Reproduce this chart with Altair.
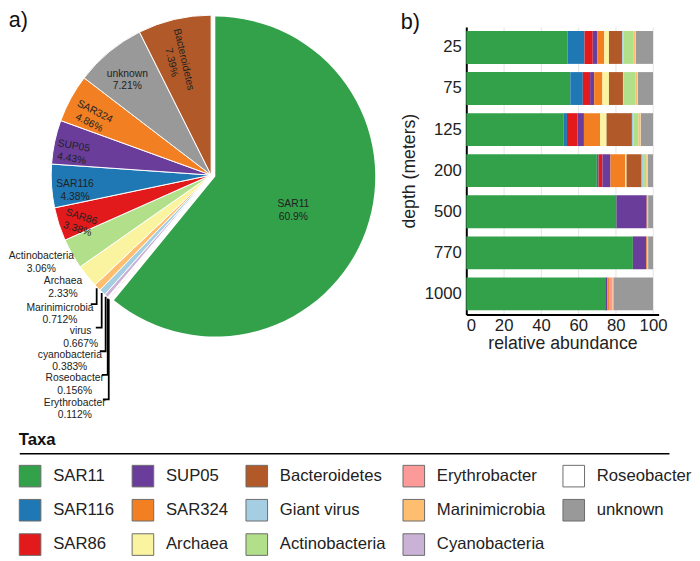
import math
import altair as alt
import pandas as pd

# ---------------- data ----------------
taxa = ["SAR11", "SAR116", "SAR86", "SUP05", "SAR324", "Archaea", "Bacteroidetes",
        "Giant virus", "Actinobacteria", "Erythrobacter", "Marinimicrobia",
        "Cyanobacteria", "Roseobacter", "unknown"]
taxa_colors = ["#33a04a", "#1f78b4", "#e31a1c", "#6a3d9a", "#f28022", "#faf4a0", "#b15928",
               "#a6cee3", "#b2df8a", "#fb9a99", "#fdbf6f", "#cab2d6", "#ffffff", "#999999"]

# panel a) pie, clockwise from 12 o'clock
pie_taxa = ["SAR11", "Erythrobacter", "Roseobacter", "Cyanobacteria", "Giant virus",
            "Marinimicrobia", "Archaea", "Actinobacteria", "SAR86", "SAR116", "SUP05",
            "SAR324", "unknown", "Bacteroidetes"]
pie_names = ["SAR11", "Erythrobacter", "Roseobacter", "cyanobacteria", "virus",
             "Marinimicrobia", "Archaea", "Actinobacteria", "SAR86", "SAR116", "SUP05",
             "SAR324", "unknown", "Bacteroidetes"]
pie_pct = [60.9, 0.112, 0.156, 0.383, 0.667, 0.712, 2.33, 3.06, 3.38, 4.38, 4.43,
           4.86, 7.21, 7.39]

# panel b) relative abundance by depth
depths = ["25", "75", "125", "200", "500", "770", "1000"]
sar11 = [54.3, 55.7, 52.0, 69.9, 80.4, 89.2, 74.4]
sar116 = [9.0, 6.7, 1.9, 0.9, 0.0, 0.0, 0.0]
sar86 = [4.4, 3.9, 5.6, 2.1, 0.0, 0.0, 0.0]
sup05 = [2.4, 2.2, 3.5, 4.3, 16.2, 7.2, 1.1]
sar324 = [3.8, 4.4, 8.7, 8.0, 0.3, 0.4, 0.9]
archaea = [2.5, 3.5, 3.4, 0.6, 0.0, 0.0, 0.0]
bacteroidetes = [7.1, 7.5, 13.6, 8.1, 0.0, 0.0, 0.0]
giant_virus = [0.7, 0.3, 0.9, 1.2, 0.0, 0.0, 0.0]
actinobacteria = [5.4, 6.3, 2.6, 1.3, 0.0, 0.0, 0.0]
erythrobacter = [0.1, 0.0, 0.0, 0.0, 0.2, 0.3, 1.9]
marinimicrobia = [0.9, 1.2, 1.2, 0.5, 0.3, 0.3, 0.5]
cyanobacteria = [0.1, 0.1, 0.0, 0.2, 0.0, 0.0, 0.0]
roseobacter = [0.1, 0.1, 0.1, 0.1, 0.0, 0.0, 0.0]
unknown = [9.2, 8.1, 6.5, 2.8, 2.6, 2.6, 21.2]

bar_series = [sar11, sar116, sar86, sup05, sar324, archaea, bacteroidetes, giant_virus,
              actinobacteria, erythrobacter, marinimicrobia, cyanobacteria, roseobacter,
              unknown]

# ---------------- layout / style ----------------
FONT = "Liberation Sans"
PIE_W, PIE_H = 390, 397
CX, CY, R = 205, 151, 163
EXPLODE = 4.5
# inside labels: (radius, rotation)
inside_labels = {"SAR11": (89, 0), "Bacteroidetes": (121, 77), "unknown": (134, 0),
                 "SAR324": (135, 27), "SUP05": (143, 10), "SAR116": (139, 0),
                 "SAR86": (139, 18)}
# outside labels: block centre in view pixels
outside_labels = [("Actinobacteria", 32, 234), ("Archaea", 54, 259),
                  ("Marinimicrobia", 51, 286), ("virus", 72, 310),
                  ("cyanobacteria", 61, 334), ("Roseobacter", 66, 358),
                  ("Erythrobacter", 66, 383)]
leader_names = ["Marinimicrobia", "virus", "cyanobacteria", "Roseobacter", "Erythrobacter"]

color_scale = alt.Scale(domain=taxa, range=taxa_colors)

# ---------------- pie ----------------
total = sum(pie_pct)
rows = []
cum = 0.0
mids = {}
for i, (t, n, v) in enumerate(zip(pie_taxa, pie_names, pie_pct)):
    mids[n] = (cum + v / 2) / total * 2 * math.pi
    cum += v
    lab = f"{n}\n{v:.3g}%"
    r, rot = inside_labels.get(t, (0, 0))
    rows.append(dict(taxon=t, name=n, pct=v, idx=i,
                     in_text=lab if t in inside_labels else "", lr=r, rot=rot))
pie_df = pd.DataFrame(rows)

sar11_mid = mids["SAR11"]
ex_dx = EXPLODE * math.sin(sar11_mid)
ex_dy = -EXPLODE * math.cos(sar11_mid)

base = alt.Chart(pie_df).encode(
    theta=alt.Theta("pct:Q", stack=True),
    order=alt.Order("idx:Q", sort="ascending"),
)
pie_color = alt.Color("taxon:N", scale=color_scale, legend=None)

arcs = base.mark_arc(x=CX, y=CY, outerRadius=R, stroke="white", strokeWidth=1).encode(
    color=pie_color,
    opacity=alt.condition(alt.datum.taxon == "SAR11", alt.value(0), alt.value(1)),
)
arc11 = base.mark_arc(x=CX + ex_dx, y=CY + ex_dy, outerRadius=R).encode(
    color=pie_color,
    opacity=alt.condition(alt.datum.taxon == "SAR11", alt.value(1), alt.value(0)),
)
in_text = alt.Chart(pie_df).transform_window(
    cum="sum(pct)", sort=[alt.SortField("idx")], frame=[None, 0]
).transform_calculate(
    mid="datum.cum - datum.pct / 2"
).transform_filter(
    alt.datum.in_text != ""
).mark_text(x=CX, y=CY, fontSize=10.5, lineBreak="\n", lineHeight=13,
            color="#222", font=FONT, align="center", baseline="middle").encode(
    theta=alt.Theta("mid:Q", stack=None),
    text="in_text:N",
    radius=alt.Radius("lr:Q", scale=None),
    angle=alt.Angle("rot:Q", scale=None),
)

name_to_pct = dict(zip(pie_names, pie_pct))
out_df = pd.DataFrame([
    dict(name=n, txt=f"{n}\n{name_to_pct[n]:.3g}%", px=x, py=y)
    for n, x, y in outside_labels
])
out_text = alt.Chart(out_df).mark_text(fontSize=10.5, lineBreak="\n", lineHeight=13,
                                       color="#222", font=FONT, align="center",
                                       baseline="middle").encode(
    x=alt.X("px:Q", scale=None, axis=None),
    y=alt.Y("py:Q", scale=None, axis=None),
    text="txt:N",
)

lead_rows = []
label_y = {n: y for n, x, y in outside_labels}
for n in leader_names:
    a = mids[n]
    tx = CX + (R + 1) * math.sin(a)
    ty = CY - (R + 1) * math.cos(a)
    hy = label_y[n] - 3.5
    lead_rows += [dict(name=n, seq=0, lx=tx, ly=ty),
                  dict(name=n, seq=1, lx=tx, ly=hy),
                  dict(name=n, seq=2, lx=tx - 6, ly=hy)]
lead_df = pd.DataFrame(lead_rows)
leaders = alt.Chart(lead_df).mark_line(color="black", strokeWidth=1.8).encode(
    x=alt.X("lx:Q", scale=None, axis=None),
    y=alt.Y("ly:Q", scale=None, axis=None),
    detail="name:N",
    order="seq:Q",
)

panel_title = dict(anchor="start", fontSize=22, fontWeight="normal",
                   font=FONT, color="#111")
pie = alt.layer(arcs, arc11, in_text, out_text, leaders).properties(
    width=PIE_W, height=PIE_H, title=alt.TitleParams("a)", offset=-19, **panel_title))

# ---------------- stacked bars ----------------
bar_rows = []
for ti, (t, series) in enumerate(zip(taxa, bar_series)):
    for d, v in zip(depths, series):
        bar_rows.append(dict(depth=d, taxon=t, val=v, idx=ti))
bar_df = pd.DataFrame(bar_rows)

bar = alt.Chart(bar_df).mark_bar().encode(
    x=alt.X("val:Q", stack="zero",
            scale=alt.Scale(domain=[0, 103], nice=False),
            axis=alt.Axis(values=[0, 20, 40, 60, 80, 100], title="relative abundance",
                          grid=True, gridColor="#e4e4e4", domainColor="black",
                          domainWidth=2, ticks=False, labelFontSize=17,
                          titleFontSize=18, titleFontWeight="normal", labelColor="#222",
                          titleColor="#222", labelFont=FONT, titleFont=FONT,
                          labelPadding=3, titlePadding=2)),
    y=alt.Y("depth:N", sort=depths,
            scale=alt.Scale(paddingInner=0.2, paddingOuter=0.1),
            axis=alt.Axis(title="depth (meters)", domainColor="black", domainWidth=2,
                          ticks=False, labelFontSize=17, titleFontSize=18,
                          titleFontWeight="normal", labelColor="#222", titleColor="#222",
                          labelFont=FONT, titleFont=FONT, labelPadding=5,
                          titlePadding=6)),
    color=alt.Color("taxon:N", scale=color_scale, legend=None),
    order=alt.Order("idx:Q", sort="ascending"),
).properties(width=196, height=293,
             title=alt.TitleParams("b)", offset=-7, **panel_title))

# ---------------- legend panel ----------------
leg_df = pd.DataFrame({"taxon": taxa})
leg_marks = alt.Chart(leg_df).mark_rect().encode(
    x=alt.value(0), x2=alt.value(0), y=alt.value(0), y2=alt.value(0),
    color=alt.Color("taxon:N",
                    scale=alt.Scale(domain=taxa, range=taxa_colors),
                    legend=alt.Legend(
                        title="Taxa", orient="none", legendX=9, legendY=0,
                        columns=5, symbolType="square", symbolSize=484,
                        symbolStrokeColor="#6b6b6b", symbolStrokeWidth=1,
                        labelFontSize=17, labelFont=FONT, labelColor="#222",
                        titleFontSize=17, titleFont=FONT, titleFontWeight="bold",
                        titleColor="#111", titlePadding=16, rowPadding=8,
                        columnPadding=15, labelOffset=12, labelLimit=0)),
)
rule_df = pd.DataFrame({"k": [0]})
leg_rule = alt.Chart(rule_df).mark_rule(color="black", strokeWidth=1.5).encode(
    x=alt.value(10), x2=alt.value(672), y=alt.value(22))
legend_panel = alt.layer(leg_rule, leg_marks).properties(width=672, height=100)

top = alt.hconcat(pie, bar, spacing=8)
chart = alt.vconcat(top, legend_panel, spacing=11,
                    padding={"top": -4, "left": 0, "right": 0, "bottom": 0}).resolve_scale(
    color="independent").resolve_legend(color="independent").configure(
    font=FONT).configure_view(strokeWidth=0, stroke="transparent")

chart.save("out.html", embed_options={"renderer": "svg", "actions": False})
